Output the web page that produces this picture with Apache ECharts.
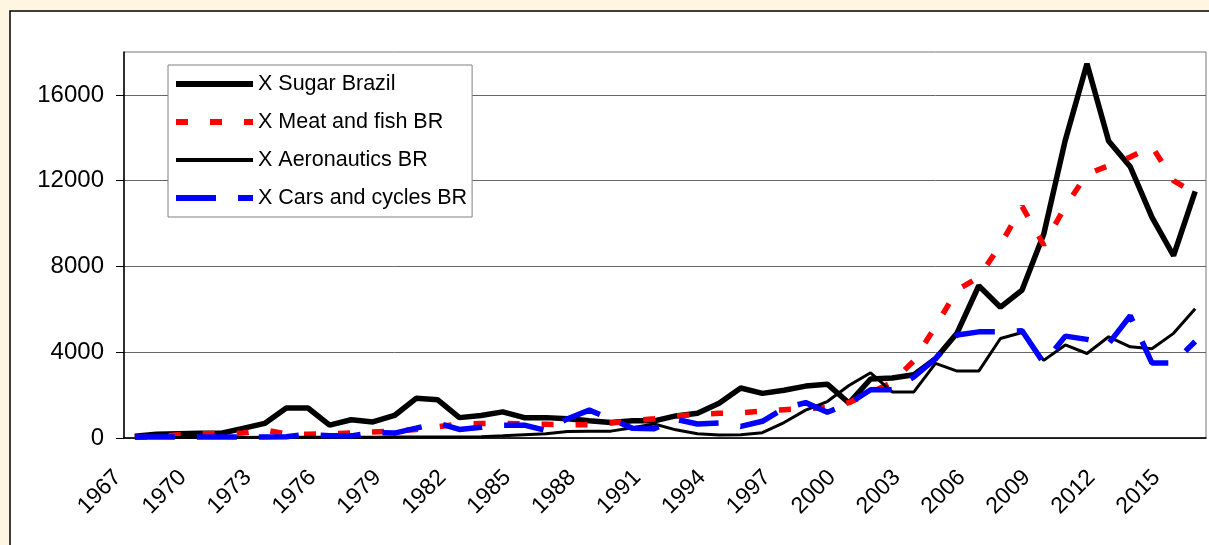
<!DOCTYPE html>
<html>
<head>
<meta charset="utf-8">
<script src="https://cdn.jsdelivr.net/npm/echarts@6/dist/echarts.min.js"></script>
<style>
  html, body { margin: 0; padding: 0; background: #fff6e1; }
  #chart { width: 1209px; height: 545px; }
</style>
</head>
<body>
<div id="chart"></div>
<script>
const years = []
for (let y = 1967; y <= 2016; y++) years.push(String(y))

// values, 1967 .. 2016
const sugarBrazil = [
  80, 180, 200, 220, 220, 450, 680, 1400, 1400, 600,
  850, 750, 1050, 1850, 1780, 950, 1050, 1220, 950, 950,
  900, 800, 720, 800, 800, 1030, 1150, 1620, 2330, 2080,
  2230, 2420, 2510, 1630, 2750, 2800, 2950, 3700, 4900, 7100,
  6100, 6900, 9500, 13900, 17450, 13850, 12650, 10300, 8500, 11500
]
const meatFish = [
  30, 60, 150, 200, 220, 230, 380, 180, 180, 200,
  230, 280, 320, 400, 520, 650, 680, 680, 660, 640,
  620, 620, 700, 800, 900, 1020, 1100, 1150, 1180, 1250,
  1320, 1370, 1420, 1650, 2100, 2600, 3600, 5200, 6900, 7500,
  9000, 10800, 9000, 10800, 12300, 12700, 13100, 13600, 12000, 11400
]
const aeronautics = [
  20, 20, 20, 20, 20, 20, 30, 30, 30, 30,
  40, 40, 50, 50, 50, 50, 60, 100, 150, 200,
  300, 320, 320, 480, 650, 380, 200, 140, 150, 250,
  720, 1300, 1700, 2450, 3040, 2150, 2150, 3480, 3120, 3120,
  4640, 4920, 3620, 4340, 3940, 4720, 4250, 4160, 4880, 6030
]
const carsCycles = [
  50, 50, 50, 50, 50, 50, 50, 60, 170, 100,
  100, 250, 230, 460, 700, 400, 500, 600, 600, 350,
  900, 1300, 880, 450, 430, 870, 650, 700, 540, 780,
  1380, 1650, 1200, 1600, 2250, 2250, 2850, 3700, 4800, 4950,
  4950, 5000, 3500, 4750, 4600, 4400, 5700, 3500, 3500, 4500
]
const yTicks = [0, 4000, 8000, 12000, 16000]

const font = 'Liberation Sans, Arial, sans-serif'
const chart = echarts.init(document.getElementById('chart'))

chart.setOption({
  animation: false,
  backgroundColor: '#fff6e1',
  graphic: [{
    type: 'rect',
    z: -10,
    shape: { x: 10, y: 11, width: 1300, height: 600 },
    style: { fill: '#fff', stroke: '#000', lineWidth: 1.5 }
  }],
  legend: {
    orient: 'vertical',
    left: 168,
    top: 65,
    itemWidth: 77,
    itemHeight: 20,
    itemGap: 16,
    padding: [8, 5, 8, 5],
    backgroundColor: '#fff',
    borderColor: '#808080',
    borderWidth: 1,
    itemStyle: { opacity: 0 },
    textStyle: { fontFamily: font, fontSize: 21.5, color: '#000' },
    data: [
      { name: 'X Sugar Brazil', lineStyle: { width: 6 } },
      { name: 'X Meat and fish BR', lineStyle: { width: 6 } },
      { name: 'X Aeronautics BR', lineStyle: { width: 4 } },
      { name: 'X Cars and cycles BR', lineStyle: { width: 6 } }
    ]
  },
  grid: {
    left: 124,
    right: 3,
    top: 52,
    bottom: 107,
    show: true,
    borderColor: '#777',
    borderWidth: 1
  },
  xAxis: {
    type: 'category',
    data: years,
    boundaryGap: true,
    axisLine: { lineStyle: { color: '#000', width: 1.5 } },
    axisTick: { interval: 0, length: 8, lineStyle: { color: '#000' } },
    axisLabel: {
      interval: 2,
      rotate: 45,
      margin: 19,
      padding: [0, 24, 0, 0],
      fontFamily: font,
      fontSize: 23,
      color: '#000'
    }
  },
  yAxis: {
    type: 'value',
    min: 0,
    max: 18000,
    interval: 4000,
    axisLine: { show: true, lineStyle: { color: '#000', width: 1.5 } },
    axisTick: { show: true, length: 8, customValues: yTicks, lineStyle: { color: '#000' } },
    axisLabel: {
      customValues: yTicks,
      formatter: v => String(v),
      margin: 20,
      fontFamily: font,
      fontSize: 24,
      color: '#000'
    },
    splitLine: { lineStyle: { color: '#666', width: 1 } }
  },
  series: [{
    name: 'X Sugar Brazil',
    type: 'line',
    data: sugarBrazil,
    symbol: 'none',
    lineStyle: { color: '#000', width: 5.5 },
    itemStyle: { color: '#000' }
  }, {
    name: 'X Meat and fish BR',
    type: 'line',
    data: meatFish,
    symbol: 'none',
    lineStyle: { color: '#ff0000', width: 5.5, type: [12, 22] },
    itemStyle: { color: '#ff0000' }
  }, {
    name: 'X Aeronautics BR',
    type: 'line',
    data: aeronautics,
    symbol: 'none',
    lineStyle: { color: '#000', width: 3 },
    itemStyle: { color: '#000' }
  }, {
    name: 'X Cars and cycles BR',
    type: 'line',
    data: carsCycles,
    symbol: 'none',
    lineStyle: { color: '#0000ff', width: 5.5, type: [40, 22] },
    itemStyle: { color: '#0000ff' }
  }]
})
</script>
</body>
</html>
